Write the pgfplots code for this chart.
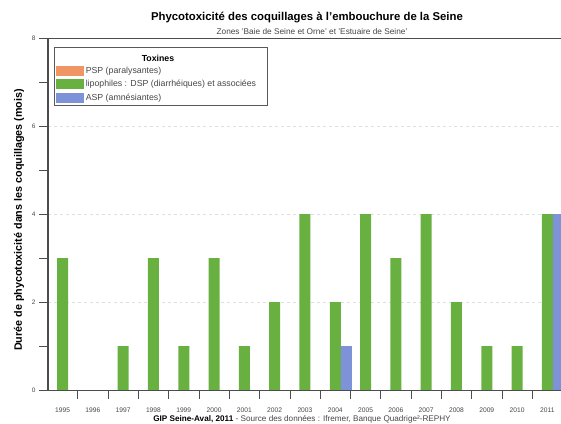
\documentclass[border=0pt]{standalone}
\usepackage{pgfplots}
\pgfplotsset{compat=1.18}
\usepackage{fontspec}
\setmainfont{Liberation Sans}
\definecolor{cpsp}{RGB}{240,150,100}
\definecolor{cdsp}{RGB}{104,176,64}
\definecolor{casp}{RGB}{125,146,215}
\definecolor{txt}{RGB}{70,70,70}
\pgfplotsset{myleg/.style={legend image code/.code={\fill[##1] (0bp,-5bp) rectangle (28bp,5bp);}}}
\begin{document}
\begin{tikzpicture}
\useasboundingbox (0,0) rectangle (561bp,424bp);
\begin{axis}[
 at={(48bp,34bp)}, anchor=south west,
 scale only axis, width=513bp, height=352bp,
 xmin=-0.48, xmax=16.45, ymin=0, ymax=8,
 axis lines*=left,
 axis line style={draw=gray!60!black},
 y axis line style={line width=1.3bp},
 x axis line style={line width=0.8bp},
 tick align=outside,
 major tick length=9bp, minor tick length=9bp,
 tick style={draw=gray!60!black, line width=0.6bp},
 ytick={0,2,4,6,8}, minor ytick={1,3,5,7},
 ytick pos=left,
 xtick={0.5,1.5,...,15.5}, xticklabels={},
 extra x ticks={0,1,...,16},
 extra x tick labels={1995,1996,1997,1998,1999,2000,2001,2002,2003,2004,2005,2006,2007,2008,2009,2010,2011},
 extra x tick style={major tick length=0pt, xticklabel style={yshift=-14bp}},
 yticklabel style={font=\fontsize{6.5}{7.5}\selectfont, text=txt},
 xticklabel style={font=\fontsize{6.7}{7.5}\selectfont, text=txt},
 /pgf/number format/assume math mode=true,
 ymajorgrids, major grid style={dashed, gray!25},
 clip=true,
 legend style={at={(0.0097,0.929)}, anchor=north west, draw=none, fill=none,
   font=\fontsize{8.8}{10}\selectfont\color{txt}, row sep=2.6bp,
   nodes={inner sep=1.6bp}},
 legend cell align=left,
]
\addplot[ybar, bar width=11bp, bar shift=-11bp, fill=cpsp, draw=none, myleg] coordinates {
(0,0) (1,0) (2,0) (3,0) (4,0) (5,0) (6,0) (7,0) (8,0) (9,0) (10,0) (11,0) (12,0) (13,0) (14,0) (15,0) (16,0)};
\addlegendentry{PSP (paralysantes)}
\addplot[ybar, bar width=11bp, bar shift=0bp, fill=cdsp, draw=none, myleg] coordinates {
(0,3) (1,0) (2,1) (3,3) (4,1) (5,3) (6,1) (7,2) (8,4) (9,2) (10,4) (11,3) (12,4) (13,2) (14,1) (15,1) (16,4)};
\addlegendentry{lipophiles : DSP (diarrhéiques) et associées}
\addplot[ybar, bar width=11bp, bar shift=11bp, fill=casp, draw=none, myleg] coordinates {
(0,0) (1,0) (2,0) (3,0) (4,0) (5,0) (6,0) (7,0) (8,0) (9,1) (10,0) (11,0) (12,0) (13,0) (14,0) (15,0) (16,4)};
\addlegendentry{ASP (amnésiantes)}
\draw[line width=1.3bp, gray!60!black] (rel axis cs:0,1) -- (rel axis cs:1,1);
\end{axis}
\draw[line width=0.8bp, gray!70!black] (54bp,319bp) rectangle (267bp,377bp);
\node[font=\fontsize{8.8}{10}\selectfont\bfseries] at (158bp,366bp) {Toxines};
\node[font=\fontsize{11.4}{13}\selectfont\bfseries] at (307bp,406bp) {Phycotoxicité des coquillages à l'embouchure de la Seine};
\node[font=\fontsize{8.3}{9.5}\selectfont, text=txt] at (312bp,392bp) {Zones 'Baie de Seine et Orne' et 'Estuaire de Seine'};
\node[font=\fontsize{10.8}{12.5}\selectfont\bfseries, rotate=90] at (19bp,204bp) {Durée de phycotoxicité dans les coquillages (mois)};
\node[font=\fontsize{8.2}{9.5}\selectfont, text=txt] at (302bp,5bp) {\textbf{\color{black}GIP Seine-Aval, 2011} - Source des données : Ifremer, Banque Quadrige²-REPHY};
\end{tikzpicture}
\end{document}
